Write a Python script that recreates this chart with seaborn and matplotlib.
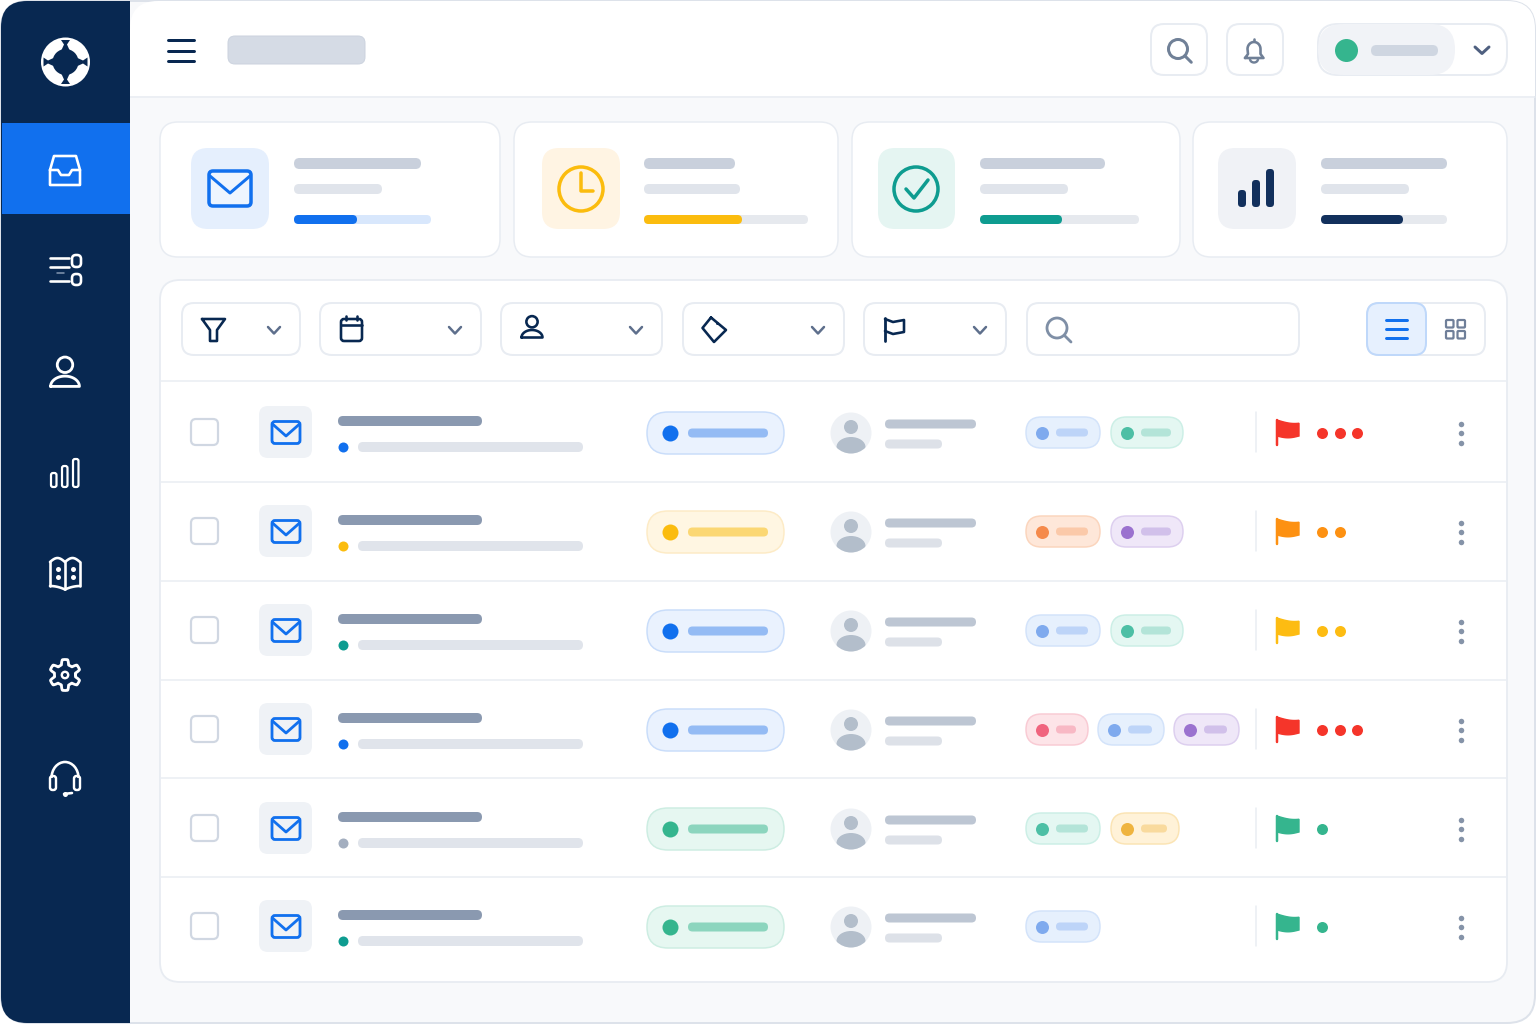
import numpy as np
import matplotlib
matplotlib.use('Agg')
import matplotlib.pyplot as plt
import seaborn as sns
from matplotlib.patches import FancyBboxPatch, Circle, Polygon, Arc, Ellipse
from matplotlib.lines import Line2D

# palette
NAVY = '#082851'
BLUE = '#1170EE'
YELLOW = '#FBBC0E'
TEAL = '#0E9C90'
GREEN = '#35B58E'
RED = '#F5352A'
ORANGE = '#FD9112'
FLAG_YELLOW = '#FDBC12'
GRAY = '#8E9CB2'
BORDER = '#E8ECF2'
SLATE = '#5E6F8C'

# stat cards
card_left = [160, 514, 852, 1193]
card_right = [500, 838, 1180, 1507]
tile_left = [191, 542, 878, 1218]
tile_right = [269, 620, 955, 1296]
tile_colors = ['#E5EFFD', '#FFF4E3', '#E5F5F2', '#F0F2F6']
line_left = [294, 644, 980, 1321]
line1_right = [421, 735, 1105, 1447]
line2_right = [382, 740, 1068, 1409]
track_right = [431, 808, 1139, 1447]
fill_right = [357, 742, 1062, 1403]
fill_colors = [BLUE, YELLOW, TEAL, '#12305C']
track_colors = ['#D8E7FC', '#E6E9EE', '#E6E9EE', '#E6E9EE']

# filter bar
filter_left = [182, 320, 501, 683, 864]
filter_right = [300, 481, 662, 844, 1006]

# table rows
separator_y = [381, 482, 581, 680, 778, 877]
row_y = [432, 531, 630, 729, 828, 926]
sub_dot_colors = [BLUE, YELLOW, TEAL, BLUE, '#A3AEBF', TEAL]
status_colors = [BLUE, YELLOW, BLUE, BLUE, GREEN, GREEN]
status_bg = ['#EAF2FE', '#FFF6E2', '#EAF2FE', '#EAF2FE', '#E6F7F1', '#E6F7F1']
status_edge = ['#C9DDFA', '#FDEBC6', '#C9DDFA', '#C9DDFA', '#CDEDE2', '#CDEDE2']
status_bar = ['#94BBF4', '#FBD773', '#94BBF4', '#94BBF4', '#8CD5BE', '#8CD5BE']
flag_colors = [RED, ORANGE, FLAG_YELLOW, RED, GREEN, GREEN]
severity = [3, 2, 2, 3, 1, 1]
severity_x = [1322, 1340, 1357]

# tag colours: dot, background, edge, bar
tag_blue = ['#7FAAEE', '#E6F0FD', '#D3E3FA', '#BDD4F8']
tag_green = ['#4DBFA5', '#E4F7F2', '#CCEFE6', '#B3E4D8']
tag_orange = ['#F58A4B', '#FEE7D9', '#FBD5BD', '#FBC9A9']
tag_purple = ['#9B72CF', '#EFE7F8', '#DDCFEF', '#D1C0EA']
tag_pink = ['#F0647E', '#FDE4E8', '#F9CBD4', '#F8B8C4']
tag_amber = ['#EFB43F', '#FFF2D8', '#FBE4B4', '#F9DA9D']
row_tags = [
    [(1026, 1100, tag_blue), (1111, 1183, tag_green)],
    [(1026, 1100, tag_orange), (1111, 1183, tag_purple)],
    [(1026, 1100, tag_blue), (1111, 1183, tag_green)],
    [(1026, 1088, tag_pink), (1098, 1164, tag_blue), (1174, 1239, tag_purple)],
    [(1026, 1100, tag_green), (1111, 1179, tag_amber)],
    [(1026, 1100, tag_blue)],
]

sns.set_theme(style='white')
fig = plt.figure(figsize=(15.36, 10.24), dpi=100)
ax = fig.add_axes([0, 0, 1, 1])
ax.set_axis_off()
PX = 0.72  # one pixel in points


def box(x0, y0, x1, y1, r, fc='white', ec='none', lw=1.5, z=2):
    r = min(r, (x1 - x0) / 2, (y1 - y0) / 2)
    ax.add_patch(FancyBboxPatch((x0 + r, y0 + r), x1 - x0 - 2 * r, y1 - y0 - 2 * r,
                                boxstyle=f'round,pad={r},rounding_size={r}',
                                fc=fc, ec=ec, lw=lw * PX, zorder=z))


def bar(x0, x1, yc, h, color, z=3):
    box(x0, yc - h / 2, x1, yc + h / 2, h / 2, fc=color, z=z)


def stroke(xs, ys, color, lw=3, z=5):
    ax.add_line(Line2D(xs, ys, color=color, lw=lw * PX, solid_capstyle='round',
                       solid_joinstyle='round', zorder=z))


def ring(cx, cy, r, color, lw=3, fc='none', z=5):
    ax.add_patch(Circle((cx, cy), r, fc=fc, ec=color, lw=lw * PX, zorder=z))


def dots(xs, ys, d, color, z=6):
    sns.scatterplot(x=xs, y=ys, s=(d * PX) ** 2, color=color, linewidth=0,
                    ax=ax, zorder=z, legend=False)


def chevron(cx, cy, color=SLATE, w=6, lw=2.5):
    stroke([cx - w, cx, cx + w], [cy - 3, cy + 3.5, cy - 3], color, lw)


def mail(cx, cy, w, h, color, lw=3):
    box(cx - w / 2, cy - h / 2, cx + w / 2, cy + h / 2, 3, fc='none', ec=color, lw=lw, z=5)
    stroke([cx - w / 2 + 1, cx, cx + w / 2 - 1], [cy - h / 2 + 3, cy + 3.5, cy - h / 2 + 3], color, lw)


def person(cx, cy, color, lw=3, s=1.0):
    ax.add_patch(Circle((cx, cy - 7 * s), 7.5 * s, fc='none', ec=color, lw=lw * PX, zorder=5))
    t = np.linspace(np.pi, 2 * np.pi, 30)
    xs = cx + 14 * s * np.cos(t)
    ys = cy + 14 * s + 10 * s * np.sin(t)
    stroke(np.r_[xs, xs[0]], np.r_[ys, ys[0]], color, lw)


def search(cx, cy, r, color, lw=3):
    ring(cx, cy, r, color, lw)
    stroke([cx + r * 0.72, cx + r * 1.4], [cy + r * 0.72, cy + r * 1.4], color, lw)


def flag(x, yc, color):
    stroke([x + 1, x + 1], [yc - 12, yc + 13], color, 2.5)
    t = np.linspace(0, 1, 20)
    top = yc - 12 + 3.5 * np.sin(t * np.pi / 1.6)
    bot = yc + 4 + 1.8 * np.sin(t * np.pi)
    xs = x + 1 + 22 * t
    ax.add_patch(Polygon(np.c_[np.r_[xs, xs[::-1]], np.r_[top, bot[::-1]]], fc=color, ec=color,
                         lw=1, zorder=5))


# window, page background and top bar
ax.add_patch(plt.Rectangle((0, 0), 1536, 1024, fc='white', ec='none', zorder=0))
box(1, 1, 1535, 1023, 28, fc='#F8F9FB', ec='#DDE2EA', lw=2, z=1)
box(130, 1, 1535, 96, 28, fc='white', z=1.1)
ax.add_patch(plt.Rectangle((130, 30), 1405, 66, fc='white', ec='none', zorder=1.1))
stroke([130, 1535], [96.5, 96.5], '#E9EDF3', 1.5, z=1.2)

# sidebar
box(1, 1, 130, 1023, 26, fc=NAVY, z=1.5)
ax.add_patch(plt.Rectangle((60, 1), 70, 1022, fc=NAVY, ec='none', zorder=1.6))
ax.add_patch(plt.Rectangle((2, 123), 128, 91, fc=BLUE, ec='none', zorder=1.7))

# logo: white disc, navy hub, four hourglass spokes
ax.add_patch(Circle((65.5, 62), 24.5, fc='white', ec='none', zorder=3))
ax.add_patch(Circle((65.5, 62), 13, fc=NAVY, ec='none', zorder=4))
spoke_s = np.array([12, 17.5, 22, 22, 17.5, 12])
spoke_w = np.array([4, 1.5, 4.5, -4.5, -1.5, -4])
for a in np.radians([0, 90, 180, 270]):
    px = 65.5 + spoke_s * np.cos(a) - spoke_w * np.sin(a)
    py = 62 + spoke_s * np.sin(a) + spoke_w * np.cos(a)
    ax.add_patch(Polygon(np.c_[px, py], fc=NAVY, ec='none', zorder=4))

# sidebar icons
W = 'white'
# inbox
stroke([50, 54, 76, 80, 80, 50, 50], [170, 156, 156, 170, 185, 185, 170], W, 2.6)
stroke([50, 58, 61, 69, 72, 80], [170, 170, 175, 175, 170, 170], W, 2.6)
# sliders
stroke([50, 69], [258, 258], W, 2.6)
stroke([50, 69], [267, 267], W, 2.6)
stroke([57, 64], [273, 273], '#7F93AD', 1.6)
stroke([50, 69], [281, 281], W, 2.6)
box(72, 255, 81, 267, 4, fc='none', ec=W, lw=2.6, z=5)
box(72, 274, 81, 285, 4, fc='none', ec=W, lw=2.6, z=5)
# person
person(65, 372, W, 2.8, s=1.03)
# bars
for x0, top in [(51, 473), (62, 466), (73, 459)]:
    box(x0, top, x0 + 5.5, 487, 2, fc='none', ec=W, lw=2.2, z=5)
# book
t = np.linspace(0, 1, 15)
stroke(50 + 15 * t, 562 - 4 * np.sin(t * np.pi), W, 2.6)
stroke(65 + 15 * t, 562 - 4 * np.sin(t * np.pi), W, 2.6)
stroke(50 + 15 * t, 586 + 3.5 * t ** 2, W, 2.6)
stroke(65 + 15 * t, 589.5 - 3.5 * (1 - (1 - t) ** 2), W, 2.6)
stroke([50, 50], [562, 586], W, 2.6)
stroke([80, 80], [562, 586], W, 2.6)
stroke([65, 65], [562, 589], W, 2.6)
for bx in [57.5, 73]:
    dots([bx, bx], [569, 577], 5, W)
# gear
t = np.linspace(0, 2 * np.pi, 241)
rg = 13 + 2.5 * np.clip(2 * np.cos(6 * t + np.pi), -1, 1)
stroke(65 + rg * np.cos(t), 675 + rg * np.sin(t), W, 2.8)
ring(65, 675, 3.2, W, 2.4)
# headset
ax.add_patch(Arc((65, 778), 27, 32, theta1=180, theta2=360, ec=W, lw=2.6 * PX, zorder=5))
box(50, 776, 56, 790, 2.5, fc='none', ec=W, lw=2.4, z=5)
box(74, 776, 80, 790, 2.5, fc='none', ec=W, lw=2.4, z=5)
stroke([64, 72], [794, 793], W, 2.6)
dots([65], [794], 5, W)

# top bar
for hy in [40, 51, 61]:
    stroke([168, 194], [hy, hy], NAVY, 3)
box(228, 36, 365, 64, 7, fc='#D5DBE5', ec='#CCD3DF', lw=1)
box(1151, 24, 1207, 75, 13, ec=BORDER, lw=2)
search(1178, 49, 9.5, '#708097', 3)
box(1227, 24, 1283, 75, 13, ec=BORDER, lw=2)
# bell
t = np.linspace(np.pi, 2 * np.pi, 20)
bx = np.r_[1245, 1248, 1254 + 6.5 * np.cos(t), 1260.5, 1263.5, 1245]
by = np.r_[58, 54, 49 + 7 * np.sin(t), 54, 58, 58]
stroke(bx, by, '#708097', 2.6)
stroke([1254, 1254], [39, 41], '#708097', 2.6)
ax.add_patch(Arc((1254, 59), 8, 7, theta1=0, theta2=180, ec='#708097', lw=2.4 * PX, zorder=5))
box(1318, 24, 1507, 75, 20, ec=BORDER, lw=2)
box(1318, 24, 1455, 75, 25, fc='#F1F3F7', z=3)
dots([1346], [50], 23, GREEN)
bar(1371, 1438, 50.5, 11, '#CFD6E1', z=4)
chevron(1482, 50, '#4F6080', 7, 3)

# stat cards
for i in range(4):
    box(card_left[i], 122, card_right[i], 257, 18, ec=BORDER, lw=1.5)
    box(tile_left[i], 148, tile_right[i], 229, 17, fc=tile_colors[i])
    bar(line_left[i], line1_right[i], 163.5, 11, '#C9D0DC')
    bar(line_left[i], line2_right[i], 189, 10, '#E0E4EB')
    bar(line_left[i], track_right[i], 219.5, 9, track_colors[i])
    bar(line_left[i], fill_right[i], 219.5, 9, fill_colors[i], z=4)
box(209, 171, 251, 206, 4, fc='#EEF5FE', ec=BLUE, lw=3.5, z=5)
stroke([210, 230, 250], [176, 193, 176], BLUE, 3)
ring(581, 189, 22, YELLOW, 3.5)
stroke([581, 581, 593], [173, 191, 191], YELLOW, 3.5)
ring(916, 189, 22, TEAL, 3.5)
stroke([906, 914, 928], [189, 198, 180], TEAL, 3.5)
for x0, top in [(1238, 190), (1252, 180), (1266, 169)]:
    box(x0, top, x0 + 8, 207, 3.5, fc='#12305C', z=5)

# main panel
box(160, 280, 1507, 982, 20, ec=BORDER, lw=1.8, z=1.8)
for fl, fr in zip(filter_left, filter_right):
    box(fl, 303, fr, 355, 12, ec=BORDER, lw=2)
    chevron(fr - 26, 330)
box(1027, 303, 1299, 355, 12, ec=BORDER, lw=2)
search(1057, 328, 10, '#7F8FA6', 2.8)

# filter icons
stroke([202, 225, 217, 217, 210, 210, 202], [319, 319, 330, 341, 341, 330, 319], NAVY, 2.6)
box(341, 319, 362, 341, 3, fc='none', ec=NAVY, lw=2.6, z=5)
stroke([341, 362], [325, 325], NAVY, 2.6)
stroke([346, 346], [316, 320], NAVY, 2.6)
stroke([357, 357], [316, 320], NAVY, 2.6)
person(532, 327, NAVY, 2.6, s=0.75)
stroke([711, 726, 714, 702.5, 711], [317.5, 330, 342, 328, 317.5], NAVY, 2.6)
dots([717], [323], 3, NAVY)
stroke([885, 885], [318, 341], NAVY, 2.8)
stroke([885, 893, 904, 904, 893, 885], [319, 322, 320, 332, 334, 331], NAVY, 2.6)

# view toggle
box(1367, 303, 1485, 355, 12, ec=BORDER, lw=2)
box(1367, 303, 1426, 355, 12, fc='#E6F0FE', ec='#BFD8FA', lw=2, z=3)
for hy in [320, 329, 338]:
    stroke([1386, 1407], [hy, hy], BLUE, 3)
for gx in [1446, 1457.5]:
    for gy in [320, 331]:
        box(gx, gy, gx + 7.5, gy + 7.5, 1, fc='none', ec='#6F7F99', lw=2.2, z=5)

# table
for sy in separator_y:
    stroke([160, 1507], [sy, sy], '#E9EDF3', 1.5, z=2.5)

for i, y in enumerate(row_y):
    # checkbox and mail tile
    box(191, y - 13, 218, y + 13, 5, ec='#D0D7E2', lw=2.2)
    box(259, y - 26, 312, y + 26, 9, fc='#EFF2F6')
    mail(286, y + 0.5, 28, 22, BLUE, 2.8)
    # subject lines
    bar(338, 482, y - 11, 10, '#8A99B0')
    bar(358, 583, y + 15, 10, '#E0E4EB')
    dots([343], [y + 15], 10, sub_dot_colors[i])
    # status pill
    box(647, y - 20, 784, y + 22, 21, fc=status_bg[i], ec=status_edge[i], lw=1.5)
    dots([670], [y + 1], 16, status_colors[i])
    bar(688, 768, y + 1, 9, status_bar[i])
    # avatar
    avatar = Circle((851, y + 1), 20.5, fc='#EEF1F5', ec='none', zorder=3)
    ax.add_patch(avatar)
    ax.add_patch(Circle((851, y - 5), 7, fc='#B3BECB', ec='none', zorder=4))
    body = Ellipse((851, y + 15), 29, 20, fc='#B3BECB', ec='none', zorder=4)
    ax.add_patch(body)
    body.set_clip_path(avatar)
    bar(885, 976, y - 8, 9, '#BDC6D3')
    bar(885, 942, y + 12, 9, '#DDE1E8')
    # tags
    for left, right, tc in row_tags[i]:
        box(left, y - 15, right, y + 16, 15.5, fc=tc[1], ec=tc[2], lw=1.5)
        dots([left + 16], [y + 0.5], 13, tc[0])
        bar(left + 30, right - 12, y + 0.5, 8, tc[3])
    # priority
    stroke([1256, 1256], [y - 20, y + 20], '#E9EDF3', 1.5)
    flag(1276, y, flag_colors[i])
    dots(severity_x[:severity[i]], [y + 1] * severity[i], 11, flag_colors[i])
    # menu
    dots([1460.5, 1460.5, 1460.5], [y - 8.5, y + 1, y + 10.5], 5.5, '#8593A8')

ax.set_xlim(0, 1536)
ax.set_ylim(1024, 0)
fig.savefig('out.png', dpi=100)
